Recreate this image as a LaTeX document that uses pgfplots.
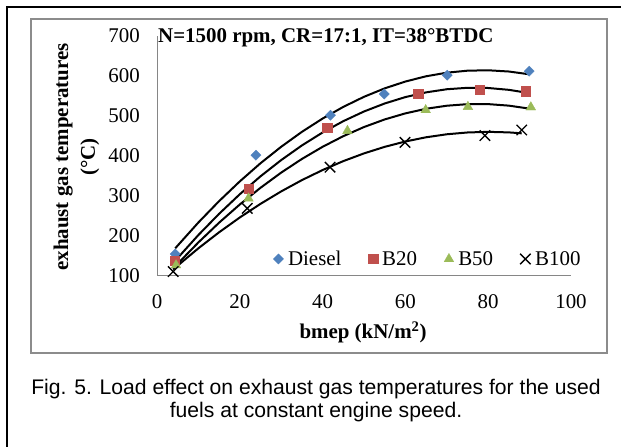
\documentclass[border=0pt]{standalone}
\usepackage{pgfplots}
\pgfplotsset{compat=1.18}
\usepackage{fontspec}
\setmainfont{Liberation Serif}
\newfontfamily\captionfont{Liberation Sans}

\definecolor{dieselblue}{RGB}{79,129,189}
\definecolor{btwentyred}{RGB}{192,80,77}
\definecolor{bfiftygreen}{RGB}{155,187,89}
\definecolor{axisgray}{RGB}{134,134,134}
\definecolor{framegray}{RGB}{140,140,140}

\newcommand{\chartfont}{\fontsize{21}{24}\selectfont}

\begin{document}
\begin{tikzpicture}
\useasboundingbox (0bp,0bp) rectangle (621bp,447bp);
% figure frame
\draw[line width=2bp, draw=black] (7bp,0bp) -- (7bp,440bp) -- (621bp,440bp);
% chart area border
\draw[line width=2bp, draw=framegray] (31bp,94bp) -- (31bp,428bp) -- (607bp,428bp) -- (607bp,94bp) -- cycle;

\begin{axis}[
  at={(157bp,171bp)}, anchor=south west,
  scale only axis, width=414bp, height=240bp,
  xmin=0, xmax=100, ymin=100, ymax=700,
  axis lines=left,
  axis line style={-, draw=axisgray, line width=1bp},
  major tick length=0pt,
  xtick={0,20,...,100},
  ytick={100,200,...,700},
  /pgf/number format/assume math mode=true,
  tick label style={font=\chartfont, inner sep=0pt},
  xticklabel style={anchor=north, yshift=-18bp},
  yticklabel style={anchor=east, xshift=-17bp},
  clip=false,
  legend columns=4,
  legend style={
    at={(0.652,0.071)}, anchor=center,
    draw=none, fill=none,
    font=\chartfont,
    nodes={inner sep=0pt},
    /tikz/every odd column/.append style={column sep=4.5bp},
    /tikz/every even column/.append style={column sep=27bp},
  },
  legend image code/.code={\draw[#1] plot coordinates {(0bp,0bp)};},
]

% measured points
\addplot[only marks, mark=square*, mark size=3.6bp,
  mark options={rotate=45, fill=dieselblue, draw=dieselblue, line width=0.3bp}]
  coordinates {(4.4,155) (23.9,402) (41.9,502) (54.9,555) (70.1,602) (89.9,612)};
\addlegendentry{Diesel}

\addplot[only marks, mark=square*, mark size=4.6bp,
  mark options={fill=btwentyred, draw=btwentyred, line width=0.3bp}]
  coordinates {(4.3,138) (22.1,319) (41.1,471) (63.1,555) (78.0,565) (89.1,562)};
\addlegendentry{B20}

\addplot[only marks, mark=triangle*, mark size=5.6bp,
  mark options={fill=bfiftygreen, draw=bfiftygreen, line width=0.3bp}]
  coordinates {(4.6,127) (22.1,294) (46.0,463) (64.9,515) (75.1,523) (90.3,522)};
\addlegendentry{B50}

\addplot[only marks, mark=x, mark size=7.4bp,
  mark options={draw=black, line width=1.4bp}]
  coordinates {(3.9,111) (21.8,269) (41.8,372) (59.9,434) (79.2,451) (88.1,465)};
\addlegendentry{B100}

% second-order trend lines
\addplot[forget plot, black, line width=2bp] coordinates {
  (4.4,169.2) (10,233.8) (15,287.2) (20,336.5) (25,381.9) (30,423.1)
  (35,460.4) (40,493.6) (45,522.8) (50,548.0) (55,569.1) (60,586.2)
  (65,599.3) (70,608.3) (75,613.3) (80,614.3) (85,611.2) (89.9,604.3)};
\addplot[forget plot, black, line width=2bp] coordinates {
  (4.3,137.1) (10,202.5) (15,255.5) (20,304.4) (25,349.2) (30,389.8)
  (35,426.4) (40,458.8) (45,487.1) (50,511.3) (55,531.3) (60,547.3)
  (65,559.1) (70,566.9) (75,570.5) (80,570.0) (85,565.4) (89.1,558.6)};
\addplot[forget plot, black, line width=2bp] coordinates {
  (4.6,126.5) (10,184.0) (15,233.3) (20,278.8) (25,320.5) (30,358.5)
  (35,392.6) (40,423.0) (45,449.6) (50,472.4) (55,491.4) (60,506.6)
  (65,518.1) (70,525.7) (75,529.6) (80,529.7) (85,525.9) (90.3,517.9)};
\addplot[forget plot, black, line width=2bp] coordinates {
  (3.9,116.5) (10,169.3) (15,209.3) (20,246.3) (25,280.4) (30,311.5)
  (35,339.7) (40,364.9) (45,387.2) (50,406.5) (55,422.9) (60,436.3)
  (65,446.8) (70,454.3) (75,458.8) (80,460.4) (85,459.0) (88.1,456.7)};
\end{axis}

% chart title
\node[anchor=base west, inner sep=0pt, font=\bfseries\chartfont] at (158bp,404bp)
  {N=1500 rpm, CR=17:1, IT=38°BTDC};
% axis titles
\node[rotate=90, align=center, inner sep=0pt, font=\bfseries\fontsize{21}{27}\selectfont]
  at (76.5bp,290bp) {exhaust gas temperatures\\(°C)};
\node[anchor=base, inner sep=0pt, font=\bfseries\chartfont] at (363bp,108bp)
  {bmep (kN/m\textsuperscript{2})};
% figure caption (two lines, placed by their own baselines)
\node[anchor=base, inner sep=0pt, font=\captionfont\fontsize{21.2}{24}\selectfont]
  at (316bp,52bp) {Fig. 5. Load effect on exhaust gas temperatures for the used};
\node[anchor=base, inner sep=0pt, font=\captionfont\fontsize{21.2}{24}\selectfont]
  at (316bp,30bp) {fuels at constant engine speed.};
\end{tikzpicture}
\end{document}
